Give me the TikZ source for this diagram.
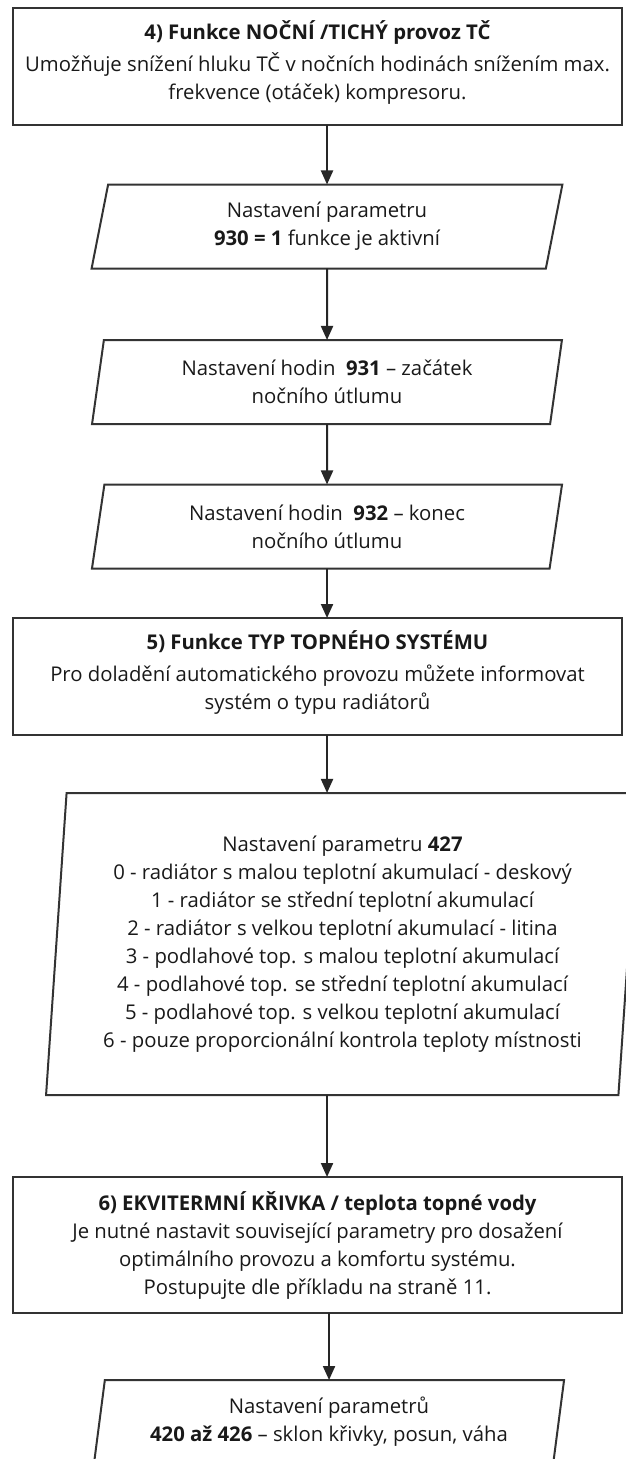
\documentclass[tikz,border=0pt]{standalone}
\usepackage{fontspec}
\setmainfont{Open Sans}
\usetikzlibrary{shapes.geometric, arrows.meta}

\tikzset{
  txt/.style={font=\fontsize{20.3}{28}\selectfont, text=black!90, align=center, inner sep=0pt, outer sep=0pt},
  box/.style={txt, draw=black!80, fill=white, rectangle, minimum width=609pt},
  para/.style={txt, draw=black!80, fill=white, trapezium, trapezium stretches=true,
    trapezium left angle=80, trapezium right angle=100, minimum width=472pt, minimum height=84pt},
  bigpara/.style={para, trapezium left angle=85.3, trapezium right angle=94.7,
    minimum width=595pt, minimum height=302pt},
  arr/.style={->, black!85}
}

\begin{document}
\begin{tikzpicture}[x=1pt, y=-1pt, line width=2pt, >={Triangle[width=12pt,length=14pt]}]
  \useasboundingbox (0,0) rectangle (626,1459);
  \clip (0,0) rectangle (626,1459);
  \fill[white] (0,0) rectangle (626,1459);

  % 4) night mode
  \node[box, minimum height=117pt, text depth=12pt] (noc) at (317.5,66.5)
    {\textbf{4) Funkce NOČNÍ /TICHÝ provoz TČ}\\[4pt]
     Umožňuje snížení hluku TČ v nočních hodinách snížením max.\\
     frekvence (otáček) kompresoru.};
  \node[para] (p930) at (327,226.5)
    {Nastavení parametru\\ \textbf{930 = 1} funkce je aktivní};
  \node[para] (p931) at (327,382)
    {Nastavení hodin~ \textbf{931} – začátek\\ nočního útlumu};
  \node[para] (p932) at (327,526.5)
    {Nastavení hodin~ \textbf{932} – konec\\ nočního útlumu};

  % 5) heating system type
  \node[box, minimum height=117pt, text depth=12pt] (typ) at (317.5,676.5)
    {\textbf{5) Funkce TYP TOPNÉHO SYSTÉMU}\\[4pt]
     Pro doladění automatického provozu můžete informovat\\
     systém o typu radiátorů};
  \node[bigpara] (p427) at (342.5,944)
    {Nastavení parametru \textbf{427}\\
     0 - radiátor s malou teplotní akumulací - deskový\\
     1 - radiátor se střední teplotní akumulací\\
     2 - radiátor s velkou teplotní akumulací - litina\\
     3 - podlahové top. s malou teplotní akumulací\\
     4 - podlahové top. se střední teplotní akumulací\\
     5 - podlahové top. s velkou teplotní akumulací\\
     6 - pouze proporcionální kontrola teploty místnosti};

  % 6) heating curve
  \node[box, minimum height=136pt] (ekv) at (317.5,1245)
    {\textbf{6) EKVITERMNÍ KŘIVKA / teplota topné vody}\\
     Je nutné nastavit související parametry pro dosažení\\
     optimálního provozu a komfortu systému.\\
     Postupujte dle příkladu na straně 11.};
  \node[para] (p420) at (329,1422)
    {Nastavení parametrů\\ \textbf{420 až 426} – sklon křivky, posun, váha};

  \draw[arr] (noc.south -| p930.north) -- (p930.north);
  \draw[arr] (p930.south) -- (p931.north);
  \draw[arr] (p931.south) -- (p932.north);
  \draw[arr] (p932.south) -- (typ.north -| p932.south);
  \draw[arr] (typ.south -| p932.south) -- (p427.north -| p932.south);
  \draw[arr] (p427.south -| p932.south) -- (ekv.north -| p932.south);
  \draw[arr] (ekv.south -| p420.north) -- (p420.north);
\end{tikzpicture}
\end{document}
